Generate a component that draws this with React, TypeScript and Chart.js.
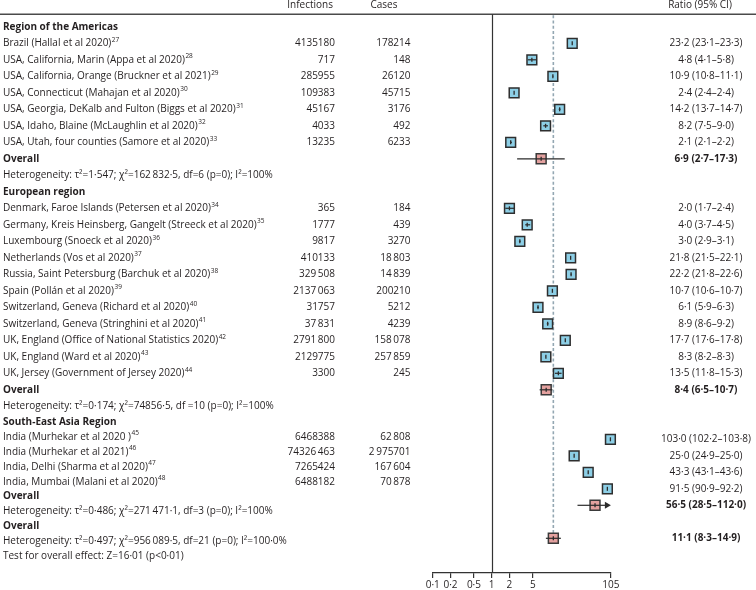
import { useEffect, useRef } from "react";
import { Chart, registerables } from "chart.js";

Chart.register(...registerables);

// ---------- data ----------
const regionNames = ["Region of the Americas", "European region", "South-East Asia Region"];

const studyLabels = [
  "Brazil (Hallal et al 2020)",
  "USA, California, Marin (Appa et al 2020)",
  "USA, California, Orange (Bruckner et al 2021)",
  "USA, Connecticut (Mahajan et al 2020)",
  "USA, Georgia, DeKalb and Fulton (Biggs et al 2020)",
  "USA, Idaho, Blaine (McLaughlin et al 2020)",
  "USA, Utah, four counties (Samore et al 2020)",
  "Denmark, Faroe Islands (Petersen et al 2020)",
  "Germany, Kreis Heinsberg, Gangelt (Streeck et al 2020)",
  "Luxembourg (Snoeck et al 2020)",
  "Netherlands (Vos et al 2020)",
  "Russia, Saint Petersburg (Barchuk et al 2020)",
  "Spain (Pollán et al 2020)",
  "Switzerland, Geneva (Richard et al 2020)",
  "Switzerland, Geneva (Stringhini et al 2020)",
  "UK, England (Office of National Statistics 2020)",
  "UK, England (Ward et al 2020)",
  "UK, Jersey (Government of Jersey 2020)",
  "India (Murhekar et al 2020 )",
  "India (Murhekar et al 2021)",
  "India, Delhi (Sharma et al 2020)",
  "India, Mumbai (Malani et al 2020)",
];
const studyRefs = [27, 28, 29, 30, 31, 32, 33, 34, 35, 36, 37, 38, 39, 40, 41, 42, 43, 44, 45, 46, 47, 48];
const studyRegion = [0, 0, 0, 0, 0, 0, 0, 1, 1, 1, 1, 1, 1, 1, 1, 1, 1, 1, 2, 2, 2, 2];
const studyInfections = [
  "4135180", "717", "285955", "109383", "45167", "4033", "13235",
  "365", "1777", "9817", "410133", "329\u2009508", "2137\u2009063", "31757", "37\u2009831", "2791\u2009800", "2129775", "3300",
  "6468388", "74326\u2009463", "7265424", "6488182",
];
const studyCases = [
  "178214", "148", "26120", "45715", "3176", "492", "6233",
  "184", "439", "3270", "18\u2009803", "14\u2009839", "200210", "5212", "4239", "158\u2009078", "257\u2009859", "245",
  "62\u2009808", "2\u2009975701", "167\u2009604", "70\u2009878",
];
const studyRatio = [23.2, 4.8, 10.9, 2.4, 14.2, 8.2, 2.1, 2.0, 4.0, 3.0, 21.8, 22.2, 10.7, 6.1, 8.9, 17.7, 8.3, 13.5, 103.0, 25.0, 43.3, 91.5];
const studyLower = [23.1, 4.1, 10.8, 2.4, 13.7, 7.5, 2.1, 1.7, 3.7, 2.9, 21.5, 21.8, 10.6, 5.9, 8.6, 17.6, 8.2, 11.8, 102.2, 24.9, 43.1, 90.9];
const studyUpper = [23.3, 5.8, 11.1, 2.4, 14.7, 9.0, 2.2, 2.4, 4.5, 3.1, 22.1, 22.6, 10.7, 6.3, 9.2, 17.8, 8.3, 15.3, 103.8, 25.0, 43.6, 92.2];

const regionRatio = [6.9, 8.4, 56.5];
const regionLower = [2.7, 6.5, 28.5];
const regionUpper = [17.3, 10.7, 112.0];
const regionHeterogeneity = [
  "Heterogeneity: \u03c4\u00b2=1\u00b7547; \u03c7\u00b2=162\u2009832\u00b75, df=6 (p=0); I\u00b2=100%",
  "Heterogeneity: \u03c4\u00b2=0\u00b7174; \u03c7\u00b2=74856\u00b75, df =10 (p=0); I\u00b2=100%",
  "Heterogeneity: \u03c4\u00b2=0\u00b7486; \u03c7\u00b2=271\u2009471\u00b71, df=3 (p=0); I\u00b2=100%",
];
const overallRatio = 11.1;
const overallLower = 8.3;
const overallUpper = 14.9;
const overallHeterogeneity = "Heterogeneity: \u03c4\u00b2=0\u00b7497; \u03c7\u00b2=956\u2009089\u00b75, df=21 (p=0); I\u00b2=100\u00b70%";
const overallTest = "Test for overall effect: Z=16\u00b701 (p<0\u00b701)";

const xTicks = [0.1, 0.2, 0.5, 1, 2, 5, 105];
const xTickLabels = ["0\u00b71", "0\u00b72", "0\u00b75", "1", "2", "5", "105"];
const X_MIN = 0.1;
const X_MAX = 105;

// ---------- row layout ----------
type Row = {
  kind: "header" | "study" | "overall" | "het" | "text";
  text: string;
  ref?: number;
  inf?: string;
  cases?: string;
  ratio?: number;
  lo?: number;
  hi?: number;
};

const rows: Row[] = [];
regionNames.forEach((name, g) => {
  rows.push({ kind: "header", text: name });
  studyLabels.forEach((lab, i) => {
    if (studyRegion[i] !== g) return;
    rows.push({
      kind: "study", text: lab, ref: studyRefs[i], inf: studyInfections[i], cases: studyCases[i],
      ratio: studyRatio[i], lo: studyLower[i], hi: studyUpper[i],
    });
  });
  rows.push({ kind: "overall", text: "Overall", ratio: regionRatio[g], lo: regionLower[g], hi: regionUpper[g] });
  rows.push({ kind: "het", text: regionHeterogeneity[g] });
});
rows.push({ kind: "overall", text: "Overall", ratio: overallRatio, lo: overallLower, hi: overallUpper });
rows.push({ kind: "het", text: overallHeterogeneity });
rows.push({ kind: "text", text: overallTest });

// the left-hand text of the last block is set slightly tighter than the plot rows
const leftRow = (r: number) => (r < 24 ? r : 23.95 + (r - 24) * 0.905);

const fmt = (v: number) => v.toFixed(1).replace(".", "\u00b7");
const ratioText = (r: Row) => `${fmt(r.ratio!)} (${fmt(r.lo!)}\u2013${fmt(r.hi!)})`;

const FONT = '"Open Sans", "DejaVu Sans", sans-serif';
const TEXT = "#231f20";

const forestPlugin = {
  id: "forest",
  beforeDatasetsDraw(chart: any) {
    const { ctx, chartArea, scales } = chart;
    const xs = scales.x;
    const ys = scales.y;
    ctx.save();
    // header rule
    ctx.strokeStyle = "#4a4a4a";
    ctx.lineWidth = 1.6;
    ctx.beginPath();
    ctx.moveTo(0, chartArea.top);
    ctx.lineTo(chart.width, chartArea.top);
    ctx.stroke();
    // line of no effect
    const x1 = Math.round(xs.getPixelForValue(1)) + 0.5;
    ctx.strokeStyle = "#333";
    ctx.lineWidth = 1.2;
    ctx.beginPath();
    ctx.moveTo(x1, chartArea.top);
    ctx.lineTo(x1, chartArea.bottom);
    ctx.stroke();
    // dashed overall estimate line
    const xo = xs.getPixelForValue(overallRatio);
    ctx.strokeStyle = "#93a7b2";
    ctx.lineWidth = 1.6;
    ctx.setLineDash([3, 2.2]);
    ctx.beginPath();
    ctx.moveTo(xo, chartArea.top + 1);
    ctx.lineTo(xo, ys.getPixelForValue(rows.length - 3) + 6);
    ctx.stroke();
    ctx.setLineDash([]);
    ctx.restore();
  },
  afterDatasetsDraw(chart: any) {
    const { ctx, scales } = chart;
    const xs = scales.x;
    const ys = scales.y;
    ctx.save();
    // CI lines and estimate ticks
    rows.forEach((r, i) => {
      if (r.ratio === undefined) return;
      const y = ys.getPixelForValue(i);
      const xl = xs.getPixelForValue(Math.max(r.lo!, X_MIN));
      const xh = xs.getPixelForValue(Math.min(r.hi!, X_MAX));
      const xe = xs.getPixelForValue(r.ratio);
      ctx.strokeStyle = "#2b2b2b";
      ctx.lineWidth = 1.2;
      ctx.beginPath();
      ctx.moveTo(xl, y);
      ctx.lineTo(r.hi! > X_MAX ? xh - 5 : xh, y);
      ctx.stroke();
      if (r.hi! > X_MAX) {
        ctx.fillStyle = "#2b2b2b";
        ctx.beginPath();
        ctx.moveTo(xh, y);
        ctx.lineTo(xh - 6, y - 3.5);
        ctx.lineTo(xh - 6, y + 3.5);
        ctx.closePath();
        ctx.fill();
      }
      ctx.lineWidth = 1.3;
      ctx.beginPath();
      ctx.moveTo(xe, y - 2);
      ctx.lineTo(xe, y + 2);
      ctx.stroke();
    });

    // column headers
    const headY = 5;
    ctx.fillStyle = TEXT;
    ctx.textBaseline = "middle";
    ctx.font = `10px ${FONT}`;
    ctx.textAlign = "right";
    ctx.fillText("Infections", 333, headY);
    ctx.textAlign = "left";
    ctx.fillText("Cases", 370.5, headY);
    ctx.textAlign = "center";
    ctx.fillText("Ratio (95% CI)", 700, headY);

    rows.forEach((r, i) => {
      const yl = ys.getPixelForValue(leftRow(i));
      const yp = ys.getPixelForValue(i);
      const bold = r.kind === "header" || r.kind === "overall";
      ctx.font = `${bold ? "bold " : ""}10px ${FONT}`;
      ctx.textAlign = "left";
      ctx.fillStyle = TEXT;
      ctx.fillText(r.text, 3, yl);
      if (r.ref !== undefined) {
        const w = ctx.measureText(r.text).width;
        ctx.font = `6.5px ${FONT}`;
        ctx.fillText(String(r.ref), 3 + w + 0.5, yl - 3.5);
      }
      if (r.inf !== undefined) {
        ctx.font = `10px ${FONT}`;
        ctx.textAlign = "right";
        ctx.fillText(r.inf, 335, yl);
        ctx.fillText(r.cases!, 410.5, yl);
      }
      if (r.ratio !== undefined) {
        ctx.font = `${r.kind === "overall" ? "bold " : ""}10px ${FONT}`;
        ctx.textAlign = "center";
        ctx.fillText(ratioText(r), 706, yp);
      }
    });
    ctx.restore();
  },
};

export default function App() {
  const ref = useRef<HTMLCanvasElement>(null);
  useEffect(() => {
    document.body.style.margin = "0";
    const studyPoints: { x: number; y: number }[] = [];
    const overallPoints: { x: number; y: number }[] = [];
    rows.forEach((r, i) => {
      if (r.kind === "study") studyPoints.push({ x: r.ratio!, y: i });
      if (r.kind === "overall") overallPoints.push({ x: r.ratio!, y: i });
    });
    const chart = new Chart(ref.current!, {
      type: "scatter",
      data: {
        datasets: [
          {
            data: studyPoints,
            backgroundColor: "#8dcfe6",
            borderColor: "#2e2e2e",
            borderWidth: 1.5,
            pointStyle: "rect",
            pointRadius: 6.9,
            pointHoverRadius: 6.9,
            clip: false,
          },
          {
            data: overallPoints,
            backgroundColor: "#e4a19f",
            borderColor: "#3a3a3a",
            borderWidth: 1.5,
            pointStyle: "rect",
            pointRadius: 7,
            pointHoverRadius: 7,
            clip: false,
          },
        ],
      },
      options: {
        animation: false,
        responsive: false,
        devicePixelRatio: 1,
        events: [],
        layout: { padding: { left: 432.7, right: 145.1, top: 14.3, bottom: 0 } },
        plugins: { legend: { display: false }, tooltip: { enabled: false } },
        scales: {
          x: {
            type: "logarithmic",
            min: X_MIN,
            max: X_MAX,
            afterBuildTicks: (scale: any) => {
              scale.ticks = xTicks.map((v) => ({ value: v }));
            },
            afterFit: (scale: any) => {
              scale.height = 17;
            },
            ticks: {
              autoSkip: false,
              maxRotation: 0,
              padding: 1,
              color: TEXT,
              font: { family: FONT, size: 10 },
              callback: (_v: any, idx: number) => xTickLabels[idx],
            },
            grid: { drawOnChartArea: false, drawTicks: true, tickLength: 5, color: "#333", lineWidth: 1.2 },
            border: { display: true, color: "#333", width: 1.3 },
          },
          y: {
            type: "linear",
            display: false,
            reverse: true,
            min: -0.7576,
            max: 33.103,
          },
        },
      },
      plugins: [forestPlugin],
    } as any);
    return () => chart.destroy();
  }, []);
  return <canvas ref={ref} width={756} height={590} style={{ display: "block", width: 756, height: 590 }} />;
}
